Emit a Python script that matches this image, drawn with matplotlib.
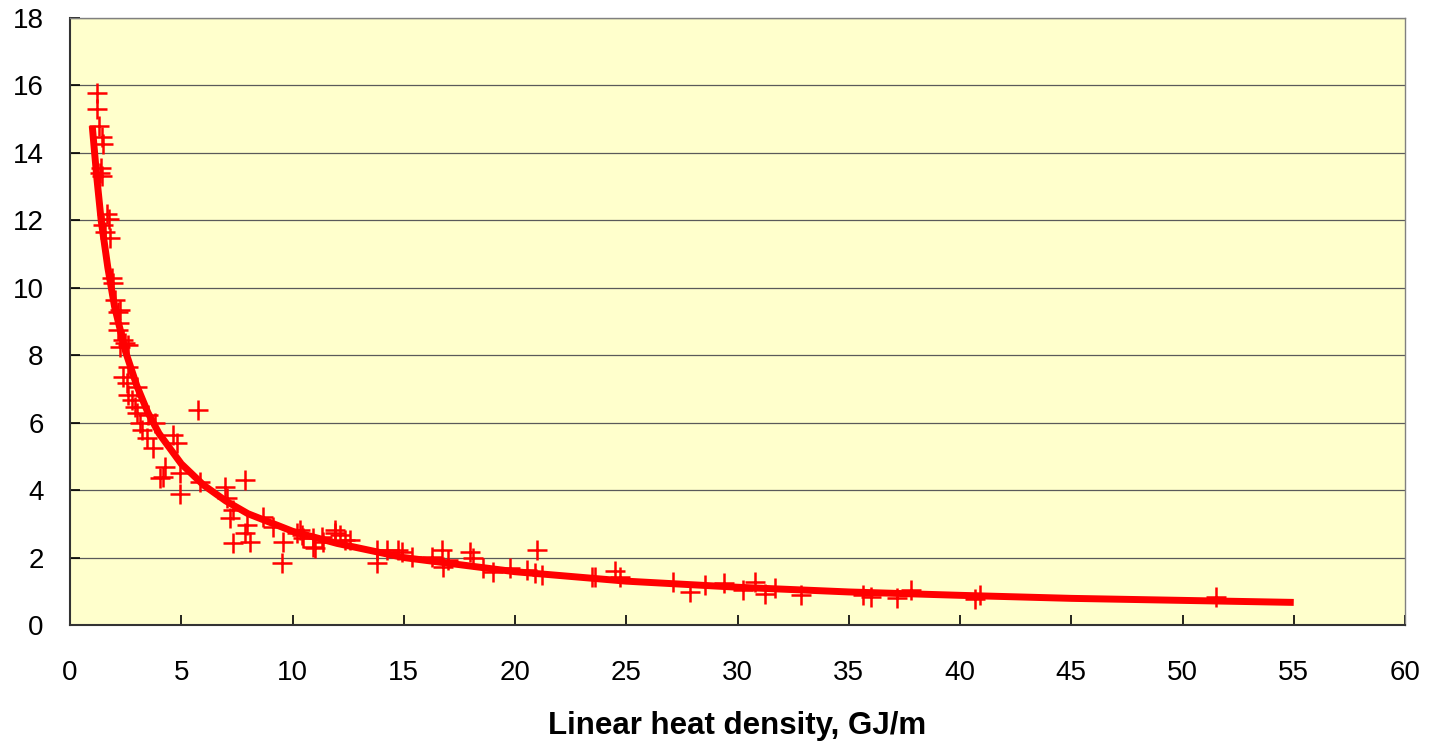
import matplotlib
matplotlib.use("Agg")
import matplotlib.pyplot as plt

plt.rcParams['font.family'] = ['Liberation Sans', 'DejaVu Sans']

# measured points (linear heat density, value)
x_pts = [1.23, 1.20, 1.32, 1.45, 1.50, 1.41, 1.36, 1.45, 1.65, 1.77, 1.50, 1.57, 1.80,
         1.87, 1.95, 2.02, 2.25, 2.17, 2.22, 2.17, 2.62, 2.25, 2.40, 2.62, 2.40, 2.55,
         3.00, 2.62, 2.77, 2.92, 3.52, 3.00, 5.77, 3.15, 3.82, 3.22, 3.45, 4.64, 4.80,
         3.75, 4.27, 4.04, 4.19, 4.94, 5.84, 6.97, 7.87, 4.94, 2.47,
         7.04, 7.34, 7.19, 7.94, 7.87, 7.34, 8.09, 8.69, 9.14, 9.51, 9.59, 10.19, 10.41,
         10.94, 11.31, 11.91, 12.13, 12.58, 13.78, 14.23,
         10.34, 10.49, 10.94, 11.01, 11.39, 11.91, 12.36, 13.78, 14.76, 14.91, 15.36,
         16.26, 16.70, 16.78, 17.00, 17.98, 18.13, 18.58, 19.03, 19.78, 20.52, 20.97,
         21.20, 20.90,
         23.45, 23.60, 24.49, 24.72, 27.09, 27.87, 28.54, 29.39, 30.23, 30.79, 31.24,
         31.69, 32.84, 35.66, 35.99, 37.15, 37.78, 40.67, 40.90, 51.49]
y_pts = [15.79, 15.30, 14.80, 14.46, 14.26, 13.54, 13.40, 13.30, 12.20, 12.03, 11.86, 11.66, 11.47,
         10.28, 10.13, 9.64, 9.34, 9.29, 8.95, 8.75, 8.30, 8.25, 8.45, 7.66, 7.36, 7.17,
         7.07, 6.82, 6.67, 6.47, 6.23, 6.28, 6.38, 5.98, 5.98, 5.78, 5.54, 5.63, 5.39,
         5.24, 4.69, 4.35, 4.40, 4.50, 4.25, 4.10, 4.30, 3.88, 8.35,
         3.76, 3.41, 3.16, 2.97, 2.72, 2.42, 2.45, 3.21, 2.92, 1.83, 2.47, 2.72, 2.67,
         2.32, 2.62, 2.72, 2.67, 2.52, 1.83, 2.22,
         2.82, 2.57, 2.57, 2.27, 2.47, 2.82, 2.52, 2.22, 2.22, 2.17, 2.03,
         2.03, 2.22, 1.73, 1.93, 2.17, 1.98, 1.68, 1.58, 1.68, 1.63, 2.22,
         1.48, 1.53,
         1.41, 1.43, 1.60, 1.41, 1.28, 0.99, 1.19, 1.24, 1.04, 1.27, 0.92,
         1.09, 0.89, 0.89, 0.84, 0.79, 1.04, 0.76, 0.88, 0.84]

# trend curve
x_fit = [1.0, 1.2, 1.4, 1.7, 2.0, 2.5, 3.0, 3.5, 4.0, 5.0, 6.0, 7.0, 8.0, 10.0,
         12.0, 15.0, 20.0, 25.0, 30.0, 35.0, 40.0, 45.0, 50.0, 55.0]
y_fit = [14.8, 13.3, 12.0, 10.6, 9.45, 8.1, 7.1, 6.3, 5.68, 4.78, 4.15, 3.68, 3.30, 2.78,
         2.42, 2.0, 1.58, 1.30, 1.12, 0.98, 0.88, 0.79, 0.73, 0.67]

fig = plt.figure(figsize=(14.29, 7.42), dpi=100)
ax = fig.add_axes([70 / 1429, 1 - 625 / 742, 1335 / 1429, 607 / 742])
ax.set_facecolor('#FFFFCC')

ax.plot(x_pts, y_pts, '+', color='#FF0000', markersize=15, markeredgewidth=1.8, zorder=3)
ax.plot(x_fit, y_fit, '-', color='#FF0000', linewidth=5, solid_capstyle='butt', zorder=4)

ax.set_xlim(0, 60)
ax.set_ylim(0, 18)
ax.set_xticks(range(0, 61, 5))
ax.set_yticks(range(0, 19, 2))
ax.yaxis.grid(True, color='#5a5a5a', linewidth=0.9)
ax.set_axisbelow(True)

ax.tick_params(direction='in', length=7, width=1.2, labelsize=20, colors='black')
ax.tick_params(axis='x', pad=25)
ax.tick_params(axis='y', pad=19)

for s in ['left', 'bottom']:
    ax.spines[s].set_color('#333333')
    ax.spines[s].set_linewidth(1.5)
for s in ['top', 'right']:
    ax.spines[s].set_color('#808080')
    ax.spines[s].set_linewidth(1.0)

ax.set_xlabel('Linear heat density, GJ/m', fontsize=22.5, fontweight='bold', labelpad=18)

fig.savefig('out.png', dpi=100)
